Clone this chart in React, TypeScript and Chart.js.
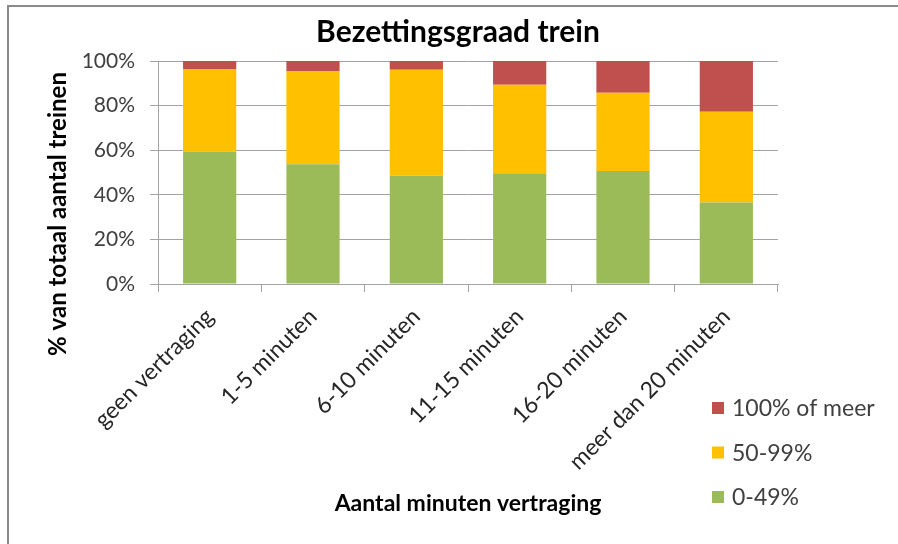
import React, { useEffect, useRef } from "react";
import { Chart, registerables } from "chart.js";

Chart.register(...registerables);

const chartTitle = "Bezettingsgraad trein";
const xTitle = "Aantal minuten vertraging";
const yTitle = "% van totaal aantal treinen";

const categories = [
  "geen vertraging",
  "1-5 minuten",
  "6-10 minuten",
  "11-15 minuten",
  "16-20 minuten",
  "meer dan 20 minuten",
];
const seriesNames = ["0-49%", "50-99%", "100% of meer"];
const seriesColors = ["#9BBB59", "#FFC000", "#C0504D"];
const low = [59.4, 53.7, 48.5, 49.3, 50.7, 36.6];
const mid = [37.0, 41.8, 47.6, 40.0, 35.1, 40.6];
const high = [3.6, 4.5, 3.9, 10.7, 14.2, 22.8];
const yTickValues = [0, 20, 40, 60, 80, 100];

const FONT = "Lato, 'Liberation Sans', sans-serif";
const GRID = "#a3a3a3";

const overlay = {
  id: "overlay",
  beforeDraw(chart: any) {
    const ctx = chart.ctx;
    ctx.save();
    ctx.fillStyle = "#ffffff";
    ctx.fillRect(0, 0, chart.width, chart.height);
    ctx.strokeStyle = "#8a8a8a";
    ctx.lineWidth = 2;
    ctx.beginPath();
    ctx.moveTo(8, chart.height);
    ctx.lineTo(8, 6);
    ctx.lineTo(chart.width, 6);
    ctx.stroke();
    ctx.restore();
  },
  afterDraw(chart: any) {
    const ctx = chart.ctx;
    // chart title
    ctx.save();
    ctx.fillStyle = "#000000";
    ctx.font = `bold 30px ${FONT}`;
    ctx.textAlign = "center";
    ctx.textBaseline = "alphabetic";
    ctx.fillText(chartTitle, 458, 42);
    ctx.restore();

    // y axis title
    ctx.save();
    ctx.fillStyle = "#000000";
    ctx.font = `bold 24px ${FONT}`;
    ctx.textAlign = "center";
    ctx.textBaseline = "middle";
    ctx.translate(58, 214);
    ctx.rotate(-Math.PI / 2);
    ctx.fillText(yTitle, 0, 0);
    ctx.restore();

    // x axis title
    ctx.save();
    ctx.fillStyle = "#000000";
    ctx.font = `bold 23px ${FONT}`;
    ctx.textAlign = "center";
    ctx.textBaseline = "middle";
    ctx.fillText(xTitle, 468, 504);
    ctx.restore();

    // legend (top to bottom in reverse stacking order)
    const ds = chart.data.datasets;
    ctx.save();
    ctx.font = `23px ${FONT}`;
    ctx.textAlign = "left";
    ctx.textBaseline = "middle";
    let row = 0;
    for (let i = ds.length - 1; i >= 0; i--) {
      const y = 408 + row * 44.5;
      ctx.fillStyle = ds[i].backgroundColor;
      ctx.fillRect(712, y - 6, 12, 12);
      ctx.fillStyle = "#404040";
      ctx.fillText(ds[i].label, 732, y + 1);
      row++;
    }
    ctx.restore();
  },
};

export default function App() {
  const ref = useRef<HTMLCanvasElement | null>(null);

  useEffect(() => {
    document.body.style.margin = "0";
    const canvas = ref.current;
    if (!canvas) return;
    const series = [low, mid, high];
    const chart = new Chart(canvas, {
      type: "bar",
      data: {
        labels: categories,
        datasets: series.map((d, i) => ({
          label: seriesNames[i],
          data: d,
          backgroundColor: seriesColors[i],
          borderWidth: 0,
          barPercentage: 0.515,
          categoryPercentage: 1,
        })),
      },
      options: {
        responsive: false,
        animation: false,
        devicePixelRatio: 1,
        layout: { padding: { left: 0, right: 120, top: 61, bottom: 0 } },
        plugins: {
          legend: { display: false },
          tooltip: { enabled: false },
          title: { display: false },
        },
        scales: {
          x: {
            stacked: true,
            afterFit(scale: any) {
              scale.height = 260;
            },
            grid: {
              display: true,
              offset: true,
              drawOnChartArea: false,
              drawTicks: true,
              tickLength: 8,
              color: GRID,
            },
            border: { display: true, color: GRID },
            ticks: {
              autoSkip: false,
              maxRotation: 45,
              minRotation: 45,
              padding: 11,
              color: "#262626",
              font: { family: FONT, size: 23 },
            },
          },
          y: {
            stacked: true,
            min: 0,
            max: 100,
            afterFit(scale: any) {
              scale.width = 158;
            },
            afterBuildTicks(scale: any) {
              scale.ticks = yTickValues.map((v) => ({ value: v }));
            },
            grid: {
              color: GRID,
              drawTicks: true,
              tickLength: 8,
            },
            border: { display: true, color: GRID },
            ticks: {
              padding: 15,
              color: "#404040",
              font: { family: FONT, size: 21 },
              callback: (v: any) => `${v}%`,
            },
          },
        },
      },
      plugins: [overlay],
    });
    return () => chart.destroy();
  }, []);

  return (
    <canvas
      ref={ref}
      width={898}
      height={544}
      style={{ display: "block", width: 898, height: 544 }}
    />
  );
}
